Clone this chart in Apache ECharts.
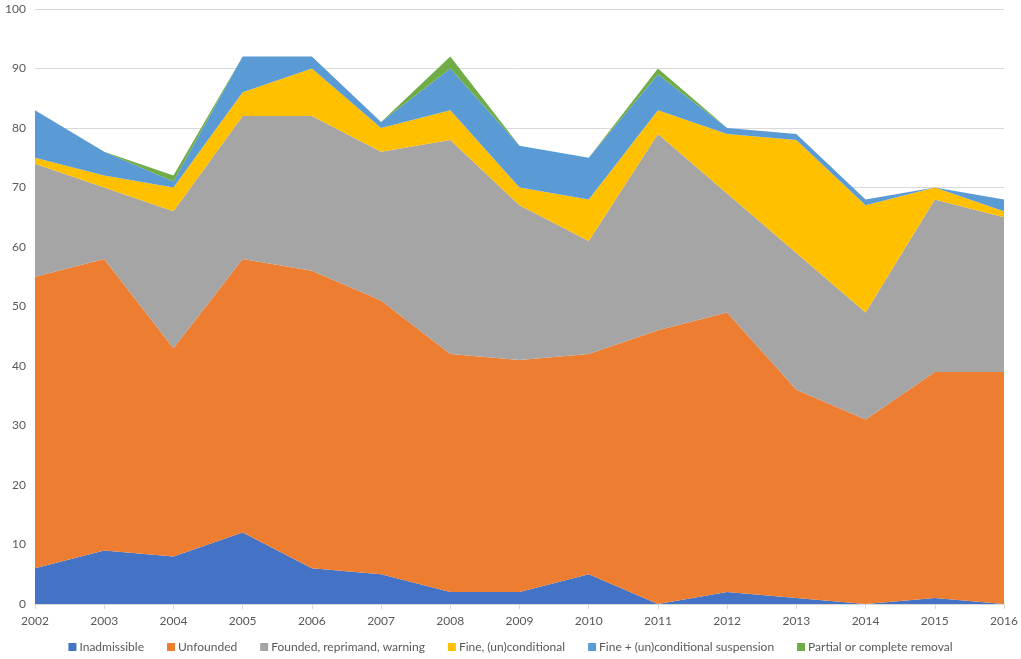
<!DOCTYPE html>
<html>
<head>
<meta charset="utf-8">
<script src="https://cdn.jsdelivr.net/npm/echarts@6/dist/echarts.min.js"></script>
<style>
  html, body { margin: 0; padding: 0; background: #fff; }
  #chart { width: 1021px; height: 659px; }
</style>
</head>
<body>
<div id="chart"></div>
<script>
// years on the x axis
const years = ['2002', '2003', '2004', '2005', '2006', '2007', '2008', '2009',
  '2010', '2011', '2012', '2013', '2014', '2015', '2016'];

// values per outcome (stacked)
const inadmissible = [6, 9, 8, 12, 6, 5, 2, 2, 5, 0, 2, 1, 0, 1, 0];
const unfounded = [49, 49, 35, 46, 50, 46, 40, 39, 37, 46, 47, 35, 31, 38, 39];
const founded = [19, 12, 23, 24, 26, 25, 36, 26, 19, 33, 20, 23, 18, 29, 26];
const fine = [1, 2, 4, 4, 8, 4, 5, 3, 7, 4, 10, 19, 18, 2, 1];
const fineSuspension = [8, 4, 1, 6, 2, 1, 7, 7, 7, 6, 1, 1, 1, 0, 2];
const removal = [0, 0, 1, 0, 0, 0, 2, 0, 0, 1, 0, 0, 0, 0, 0];

const seriesNames = ['Inadmissible', 'Unfounded', 'Founded, reprimand, warning',
  'Fine, (un)conditional', 'Fine + (un)conditional suspension', 'Partial or complete removal'];
const colors = ['#4472C4', '#ED7D31', '#A5A5A5', '#FFC000', '#5B9BD5', '#70AD47'];
const allData = [inadmissible, unfounded, founded, fine, fineSuspension, removal];

const chart = echarts.init(document.getElementById('chart'));

const option = {
  animation: false,
  color: colors,
  textStyle: { fontFamily: 'Lato', color: '#595959' },
  grid: { left: 35, right: 17, top: 9, bottom: 55 },
  legend: {
    top: 641,
    left: 'center',
    padding: 0,
    itemWidth: 8,
    itemHeight: 8,
    itemGap: 23,
    icon: 'rect',
    textStyle: { fontSize: 12, color: '#595959', fontFamily: 'Lato', padding: [0, 0, 0, -2] },
    data: seriesNames
  },
  xAxis: {
    type: 'category',
    data: years,
    boundaryGap: false,
    axisLine: { lineStyle: { color: '#D9D9D9' } },
    axisTick: { show: true, length: 5, lineStyle: { color: '#D9D9D9' } },
    axisLabel: { fontSize: 12, color: '#595959', margin: 11 }
  },
  yAxis: {
    type: 'value',
    min: 0,
    max: 100,
    interval: 10,
    axisLine: { show: false },
    axisTick: { show: false },
    axisLabel: { fontSize: 12, color: '#595959', margin: 9 },
    splitLine: { lineStyle: { color: '#D9D9D9' } }
  },
  series: allData.map((d, i) => ({
    name: seriesNames[i],
    type: 'line',
    stack: 'total',
    data: d,
    symbol: 'none',
    lineStyle: { width: 0 },
    areaStyle: { color: colors[i], opacity: 1 },
    itemStyle: { color: colors[i] }
  }))
};

chart.setOption(option);
</script>
</body>
</html>
